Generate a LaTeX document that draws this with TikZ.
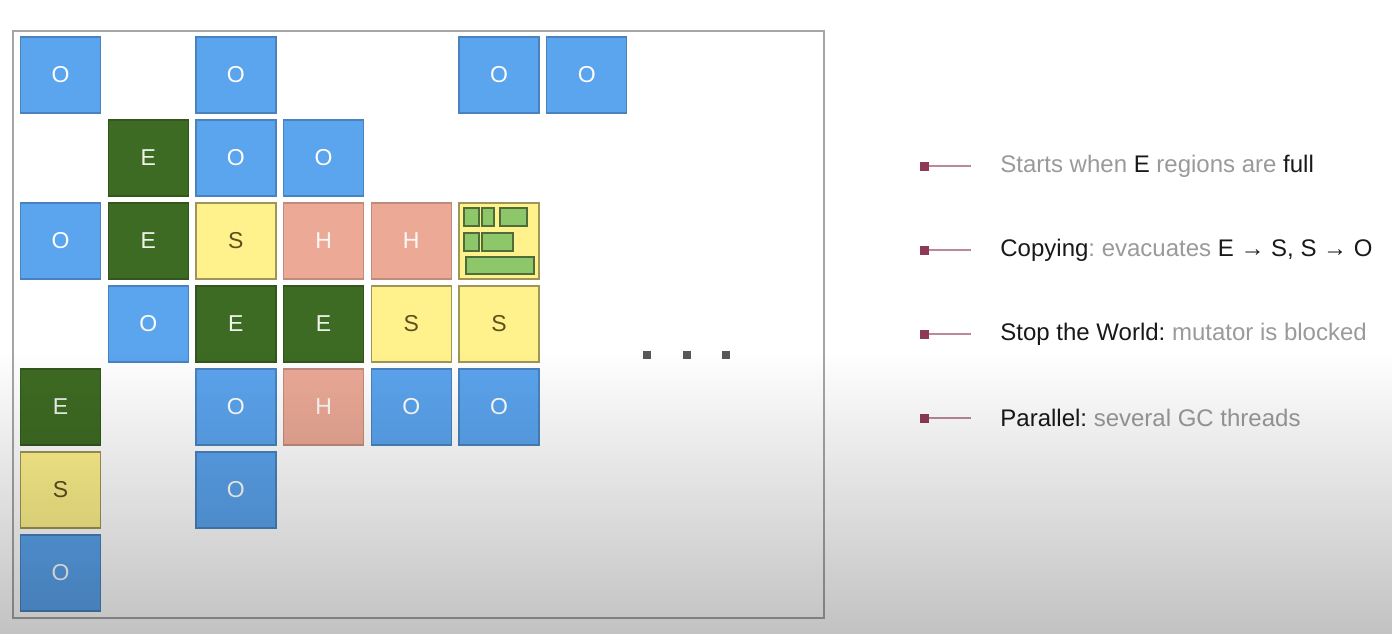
\documentclass[tikz,border=0pt]{standalone}
\usepackage{fontspec}
\setmainfont{Liberation Sans}
\usetikzlibrary{positioning}
\usetikzlibrary{fadings}
\definecolor{oblue}{HTML}{5BA4EE}
\definecolor{egreen}{HTML}{3E6B23}
\definecolor{syellow}{HTML}{FFF28C}
\definecolor{stext}{HTML}{5C5020}
\definecolor{hsalmon}{HTML}{EBA996}
\definecolor{ogreen}{HTML}{8DC76A}
\definecolor{lgray}{HTML}{9A9A9A}
\definecolor{mark}{HTML}{8E3A55}
\newcommand\btxt[1]{\textcolor{black!90}{#1}}
\frenchspacing
\tikzset{%
  cell/.style = {rectangle,draw,line width=0.6pt,minimum width=40pt,
        minimum height=38pt,inner sep=0pt,font=\fontsize{11.5}{13}\selectfont},
  old/.style = {cell,fill=oblue,draw=oblue!80!black,text=white},
  eden/.style = {cell,fill=egreen,draw=egreen!80!black,text=white!92!egreen},
  surv/.style = {cell,fill=syellow,draw=syellow!62!black,text=stext},
  hum/.style = {cell,fill=hsalmon,draw=hsalmon!82!black,text=white!92!hsalmon},
  obj/.style = {rectangle,draw=ogreen!55!black,fill=ogreen,line width=0.6pt,
        inner sep=0pt,anchor=north west},
  dot/.style = {rectangle,fill=black!65,minimum size=4pt,inner sep=0pt},
  bullet/.style = {rectangle,fill=mark,minimum size=4.5pt,inner sep=0pt},
  tick/.style = {mark!60!white,line width=0.7pt},
  item/.style = {anchor=west,inner sep=0pt,text=lgray,
        font=\fontsize{12}{14}\selectfont}
}
\begin{document}
\begin{tikzpicture}[x=0.5pt,y=-0.5pt]
    \useasboundingbox[fill=white] (0,0) rectangle (1392,634);
    \node[draw=black!35,line width=1pt,minimum width=405.5pt,minimum height=293.5pt,
        anchor=north west,inner sep=0pt] (heap) at (12,30) {};
    % regions
    \foreach \c/\r/\k/\t in {0/0/old/O, 2/0/old/O, 5/0/old/O, 6/0/old/O,
        1/1/eden/E, 2/1/old/O, 3/1/old/O,
        0/2/old/O, 1/2/eden/E, 2/2/surv/S, 3/2/hum/H, 4/2/hum/H,
        1/3/old/O, 2/3/eden/E, 3/3/eden/E, 4/3/surv/S, 5/3/surv/S,
        0/4/eden/E, 2/4/old/O, 3/4/hum/H, 4/4/old/O, 5/4/old/O,
        0/5/surv/S, 2/5/old/O,
        0/6/old/O}
        \node[\k] (c\c\r) at (60.5+87.7*\c,75+83*\r) {\t};
    \node[surv] (c52) at (60.5+87.7*5,75+83*2) {};
    % objects in the survivor region
    \foreach \i/\dx/\dy/\w/\h in {1/5/5/15/18, 2/23/5/12/18, 3/41/5/27/18,
        4/5/30/15/18, 5/23/30/31/18, 6/7/54/68/17}
        \node[obj,minimum width=\w*0.5pt,minimum height=\h*0.5pt]
            (o\i) at ([shift={(\dx,\dy)}]c52.north west) {};
    % more regions
    \foreach \x in {647,687,726}
        \node[dot] (d\x) at (\x,355) {};
    % phases
    \foreach \i/\y/\txt in {1/166/{Starts when \btxt{E} regions are \btxt{full}},
        2/250/{\btxt{Copying}: evacuates \btxt{E → S, S → O}},
        3/334/{\btxt{Stop the World:} mutator is blocked},
        4/418/{\btxt{Parallel:} several GC threads}}
    {
        \node[bullet] (m\i) at (924,\y) {};
        \coordinate (e\i) at (971,\y);
        \draw[tick] (m\i) -- (e\i);
        \node[item] (t\i) at (1000,\y) {\txt};
    }
    \fill[black,opacity=0.24,path fading=north] (0,350) rectangle (1392,634);
\end{tikzpicture}
\end{document}
